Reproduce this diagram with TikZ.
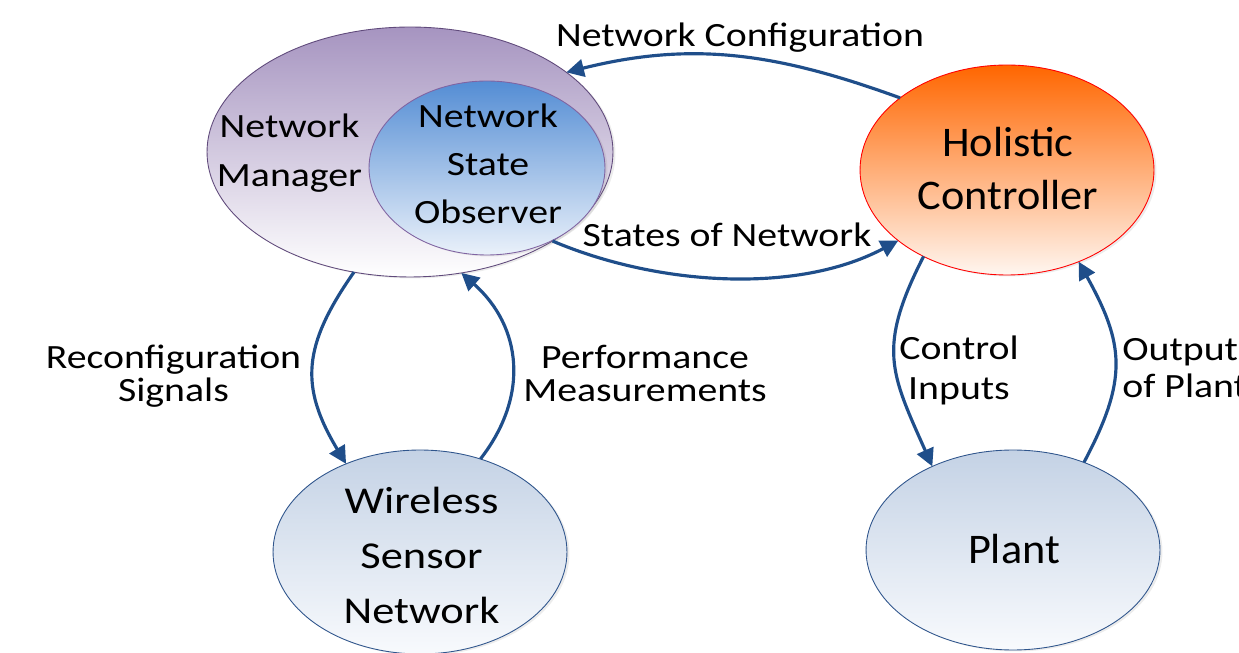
\documentclass[tikz,border=0pt]{standalone}
\usepackage{fontspec}
\setmainfont{Carlito}
\newfontfamily\flbl{Carlito}[FakeStretch=1.17]
\newfontfamily\fhc{Carlito}[FakeStretch=1.05]
\usetikzlibrary{arrows.meta,shapes.geometric,shadows}
\definecolor{arrowc}{RGB}{31,78,138}
\definecolor{nmtop}{RGB}{166,148,192}
\definecolor{nmborder}{RGB}{96,74,123}
\definecolor{nsotop}{RGB}{84,141,212}
\definecolor{nsobot}{RGB}{234,241,250}
\definecolor{nsoborder}{RGB}{128,100,162}
\definecolor{hctop}{RGB}{255,102,0}
\definecolor{hcbot}{RGB}{255,246,240}
\definecolor{bltop}{RGB}{196,210,229}
\definecolor{blbot}{RGB}{248,250,253}
\definecolor{blborder}{RGB}{47,85,140}
\tikzset{
  ell/.style={ellipse, inner sep=0pt, outer sep=0pt, line width=0.5pt,
    drop shadow={opacity=0.15, shadow xshift=0.05cm, shadow yshift=-0.03cm}},
  conn/.style={draw=arrowc, line width=1.8pt, -{Triangle[length=10pt,width=10pt]}},
  lbl/.style 2 args={font=\flbl\fontsize{#1}{#2}\selectfont, align=center, inner sep=0pt},
  bigtxt/.style 2 args={font=\fhc\fontsize{#1}{#2}\selectfont, align=center, inner sep=0pt}
}
\begin{document}
\begin{tikzpicture}[x=0.02cm,y=0.02cm]
\clip (0,0) rectangle (1239,652);
% ellipses
\node[ell, draw=nmborder, top color=nmtop, bottom color=white,
  minimum width=8.12cm, minimum height=5.0cm] (nm) at (410,500) {};
\node[ell, draw=nsoborder, top color=nsotop, bottom color=nsobot,
  minimum width=4.72cm, minimum height=3.48cm] (nso) at (487,484) {};
\node[ell, draw=red, top color=hctop, bottom color=hcbot,
  minimum width=5.88cm, minimum height=4.2cm] (hc) at (1007,482) {};
\node[ell, draw=blborder, top color=bltop, bottom color=blbot,
  minimum width=5.88cm, minimum height=4.08cm] (wsn) at (420,100) {};
\node[ell, draw=blborder, top color=bltop, bottom color=blbot,
  minimum width=5.88cm, minimum height=4.0cm] (plant) at (1013,102) {};
% node texts (base = baseline of the last line)
\node[lbl={19.35pt}{27.9pt}, anchor=base] (tnm) at (289.5,465) {Network\\Manager};
\node[lbl={19.35pt}{27.6pt}, anchor=base] (tnso) at (488,428) {Network\\State\\Observer};
\node[bigtxt={24pt}{30.2pt}, anchor=base] (thc) at (1008,442) {Holistic\\Controller};
\node[lbl={21.6pt}{31.3pt}, anchor=base] (twsn) at (421.5,29) {Wireless\\Sensor\\Network};
\node[bigtxt={24pt}{30pt}, anchor=base] (tplant) at (1014,89) {Plant};
% connectors
\draw[conn] (hc.146.8) to[out=160, in=14] (nm.27);
\draw[conn] (nm.328.7) to[out=-23, in=208, looseness=0.85] (hc.213.4);
\draw[conn] (nm.245) to[out=235, in=121, looseness=1.2] (wsn.130);
\draw[conn] (wsn.57) to[out=52, in=-41.5, looseness=1.1] (nm.293.5);
\draw[conn] (hc.226) to[out=243, in=114, looseness=1.25] (plant.134.7);
\draw[conn] (plant.51.2) to[out=62, in=-61, looseness=1.2] (hc.308.9);
% connector labels
\node[lbl={19.35pt}{18.8pt}, anchor=base] (lnc) at (740,605) {Network Configuration};
\node[lbl={19.35pt}{18.8pt}, anchor=base] (lson) at (727,405) {States of Network};
\node[lbl={19.35pt}{18.8pt}, anchor=base] (lrs) at (173.5,250) {Reconfiguration\\Signals};
\node[lbl={19.35pt}{18.8pt}, anchor=base] (lpm) at (645,250) {Performance\\Measurements};
\node[lbl={19.35pt}{22.8pt}, anchor=base] (lci) at (959,252) {Control\\Inputs};
\node[lbl={19.35pt}{21.6pt}, anchor=base west, align=left] (lop) at (1122,254) {Outputs\\of Plant};
\end{tikzpicture}
\end{document}
